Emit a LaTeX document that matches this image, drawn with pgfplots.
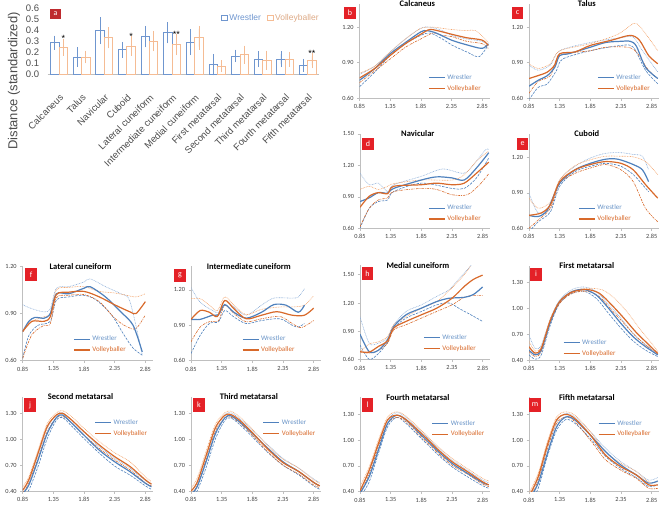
\documentclass[border=0pt]{standalone}
\usepackage{fontspec}
\setmainfont{Carlito}
\newfontfamily\arial{Liberation Sans}
\newfontfamily\calibri{Carlito}
\usepackage{pgfplots}
\usepackage{pgfplotstable}
\pgfplotsset{compat=1.18}

\definecolor{wblue}{HTML}{4F81BD}
\definecolor{wlight}{HTML}{8FB0DA}
\definecolor{vorange}{HTML}{D8692A}
\definecolor{vlight}{HTML}{F3A46C}
\definecolor{abar}{HTML}{6F96CF}
\definecolor{aorange}{HTML}{F5BC94}
\definecolor{badge}{HTML}{E42127}
\definecolor{badgea}{HTML}{BE2A2E}
\definecolor{axgray}{HTML}{BFBFBF}
\definecolor{ticktext}{HTML}{404040}

% panel a: mean distance and error
\pgfplotstableread{
x w we v ve
0 0.285 0.037 0.245 0.050
1 0.155 0.060 0.155 0.030
2 0.395 0.095 0.330 0.070
3 0.220 0.045 0.255 0.060
4 0.340 0.070 0.300 0.065
5 0.375 0.070 0.270 0.070
6 0.290 0.090 0.330 0.080
7 0.085 0.070 0.070 0.028
8 0.165 0.030 0.175 0.055
9 0.135 0.045 0.125 0.060
10 0.135 0.045 0.135 0.040
11 0.080 0.030 0.120 0.040
}\dataA

\pgfplotsset{
  lp/.style={scale only axis, width=130pt, height=94.5pt, anchor=south west,
    xmin=0.85, xmax=2.97, xtick={0.85,1.35,1.85,2.35,2.85},
    axis x line*=bottom, axis y line*=left,
    axis line style={axgray, line width=0.7pt},
    tick style={axgray, line width=0.6pt}, tick align=outside, major tick length=2.5pt,
    minor tick num=0,
    tick label style={font=\calibri\fontsize{6.3}{7}\selectfont, text=ticktext},
    /pgf/number format/assume math mode=true,
    /pgf/number format/fixed, /pgf/number format/fixed zerofill,
    /pgf/number format/precision=2,
    title style={at={(0.445,0.935)}, anchor=center, font=\calibri\bfseries\fontsize{8.5}{9}\selectfont},
    legend style={draw=none, fill=none, inner sep=0pt, row sep=0.5pt,
      font=\calibri\fontsize{7}{8}\selectfont, cells={anchor=west}},
    legend image code/.code={\draw[##1] (0pt,0pt) -- (16pt,0pt);},
  },
  wm/.style={wblue, line width=1.2pt, smooth},
  wl/.style={wblue, line width=0.6pt, dash pattern=on 2.5pt off 1.2pt, smooth, forget plot},
  wu/.style={wlight, line width=0.6pt, dash pattern=on 0.8pt off 0.8pt, smooth, forget plot},
  vm/.style={vorange, line width=1.2pt, smooth},
  vl/.style={vorange, line width=0.6pt, dash pattern=on 2.5pt off 1pt on 0.8pt off 1pt, smooth, forget plot},
  vu/.style={vlight, line width=0.6pt, dash pattern=on 0.8pt off 0.8pt, smooth, forget plot},
}
\newcommand{\legWV}{\addlegendentry{\textcolor{wblue!85}{Wrestler}}}
\newcommand{\legV}{\addlegendentry{\textcolor{vorange}{Volleyballer}}}

\begin{document}
\begin{tikzpicture}
\path[use as bounding box] (0pt,0pt) rectangle (662pt,-509pt);

% ---------- a ----------
\begin{axis}[at={(47.7pt,-74pt)}, anchor=south west, scale only axis,
  width=271.3pt, height=66pt, clip=false,
  ybar=0pt, bar width=8.4pt,
  xmin=-0.5, xmax=11.5, ymin=0, ymax=0.6,
  ytick={0,0.1,0.2,0.3,0.4,0.5,0.6},
  xtick={0,...,11},
  xticklabels={Calcaneus,Talus,Navicular,Cuboid,Lateral cuneiform,Intermediate cuneiform,Medial cuneiform,First metatarsal,Second metatarsal,Third metatarsal,Fourth metatarsal,Fifth metatarsal},
  axis x line*=bottom, axis y line*=left,
  x axis line style={axgray, line width=0.7pt}, y axis line style={draw=none},
  tick style={draw=none},
  tick label style={font=\arial\fontsize{9.5}{10}\selectfont, text=black!70},
  /pgf/number format/assume math mode=true,
  /pgf/number format/fixed, /pgf/number format/fixed zerofill,
  /pgf/number format/precision=1,
  yticklabel style={xshift=-5pt},
  xticklabel style={rotate=45, anchor=north east, inner sep=0pt, xshift=-10.6pt, yshift=-10.6pt},
  legend columns=2,
  legend style={at={(0.628,0.975)}, anchor=north west, draw=none, fill=none,
    font=\arial\fontsize{8.5}{9}\selectfont,
    /tikz/every even column/.append style={column sep=4pt}},
  legend image code/.code={\draw[#1, fill=white, line width=0.6pt] (0pt,-2.8pt) rectangle (5.6pt,2.8pt);},
]
\addplot[draw=abar, fill=white, line width=0.7pt,
  error bars/.cd, y dir=both, y explicit,
  error bar style={abar, line width=0.7pt},
  error mark options={abar, mark size=3pt, line width=0.7pt}]
  table[x=x, y=w, y error=we] {\dataA};
\addlegendentry{\textcolor{abar}{Wrestler}}
\addplot[draw=aorange, fill=white, line width=0.7pt,
  error bars/.cd, y dir=both, y explicit,
  error bar style={aorange, line width=0.7pt},
  error mark options={aorange, mark size=3pt, line width=0.7pt}]
  table[x=x, y=v, y error=ve] {\dataA};
\addlegendentry{\textcolor{aorange!90!black}{Volleyballer}}
\node[font=\arial\fontsize{9}{9}\selectfont, anchor=south, inner sep=0.5pt] at (axis cs:0.19,0.285) {*};
\node[font=\arial\fontsize{9}{9}\selectfont, anchor=south, inner sep=0.5pt] at (axis cs:3.19,0.305) {*};
\node[font=\arial\fontsize{9}{9}\selectfont, anchor=south, inner sep=0.5pt] at (axis cs:5.19,0.33) {**};
\node[font=\arial\fontsize{9}{9}\selectfont, anchor=south, inner sep=0.5pt] at (axis cs:11.19,0.15) {**};
\end{axis}
\node[rotate=90, font=\arial\fontsize{13}{14}\selectfont, text=black!70] at (14pt,-81pt) {Distance (standardized)};

% ---------- b Calcaneus ----------
\begin{axis}[lp, at={(359.5pt,-98pt)}, ymin=0.6, ymax=1.4, ytick={0.6,0.9,1.2},
  title={Calcaneus}, legend style={at={(0.527,0.27)}, anchor=north west}]
\addplot[wl] coordinates {(0.85,0.695)(1.1,0.82)(1.35,0.96)(1.6,1.06)(1.85,1.13)(2.0,1.15)(2.2,1.10)(2.35,1.05)(2.6,0.99)(2.8,0.95)(2.95,1.05)};
\addplot[wu] coordinates {(0.85,0.80)(1.1,0.87)(1.35,0.99)(1.6,1.10)(1.85,1.19)(2.0,1.20)(2.2,1.17)(2.35,1.13)(2.6,1.10)(2.85,1.08)(2.95,1.05)};
\addplot[vl] coordinates {(0.85,0.73)(1.1,0.83)(1.35,0.93)(1.6,1.03)(1.85,1.10)(2.05,1.15)(2.2,1.13)(2.35,1.12)(2.6,1.08)(2.85,1.06)(2.95,1.02)};
\addplot[vu] coordinates {(0.85,0.81)(1.1,0.87)(1.35,0.99)(1.6,1.10)(1.85,1.19)(2.05,1.20)(2.2,1.19)(2.35,1.18)(2.6,1.17)(2.75,1.17)(2.95,1.07)};
\addplot[wm] coordinates {(0.85,0.75)(1.1,0.85)(1.35,0.975)(1.6,1.07)(1.85,1.16)(1.95,1.17)(2.1,1.15)(2.35,1.09)(2.6,1.05)(2.85,1.02)(2.95,1.06)};
\legWV
\addplot[vm] coordinates {(0.85,0.77)(1.1,0.85)(1.35,0.96)(1.6,1.06)(1.85,1.14)(2.0,1.18)(2.2,1.16)(2.35,1.14)(2.6,1.11)(2.85,1.09)(2.95,1.045)};
\legV
\end{axis}

% ---------- c Talus ----------
\begin{axis}[lp, at={(529pt,-98pt)}, ymin=0.6, ymax=1.4, ytick={0.6,0.9,1.2},
  title={Talus}, legend style={at={(0.523,0.27)}, anchor=north west}]
\addplot[wl] coordinates {(0.85,0.585)(1.0,0.69)(1.15,0.72)(1.3,0.835)(1.4,0.93)(1.85,1.0)(2.35,1.045)(2.55,1.03)(2.75,0.835)(2.95,0.72)};
\addplot[wu] coordinates {(0.85,0.88)(1.0,0.835)(1.2,0.88)(1.35,1.0)(1.85,1.07)(2.35,1.11)(2.55,1.115)(2.7,1.0)(2.95,0.82)};
\addplot[vl] coordinates {(0.85,0.64)(1.0,0.74)(1.2,0.79)(1.35,0.96)(1.85,1.0)(2.1,1.03)(2.45,1.03)(2.6,0.99)(2.8,0.835)(2.95,0.765)};
\addplot[vu] coordinates {(0.85,0.89)(1.0,0.85)(1.2,0.89)(1.35,1.0)(1.85,1.06)(2.3,1.14)(2.55,1.23)(2.65,1.21)(2.8,1.11)(2.95,1.0)};
\addplot[wm] coordinates {(0.85,0.70)(1.0,0.75)(1.15,0.79)(1.27,0.86)(1.35,0.96)(1.5,0.975)(1.85,1.03)(2.1,1.07)(2.35,1.08)(2.5,1.08)(2.6,1.04)(2.75,0.86)(2.95,0.765)};
\legWV
\addplot[vm] coordinates {(0.85,0.765)(1.0,0.79)(1.15,0.82)(1.27,0.88)(1.35,0.975)(1.6,0.99)(1.85,1.045)(2.2,1.09)(2.5,1.13)(2.65,1.09)(2.8,0.96)(2.95,0.89)};
\legV
\end{axis}

% ---------- d Navicular ----------
\begin{axis}[lp, at={(360pt,-228.3pt)}, ymin=0.6, ymax=1.5, ytick={0.6,0.9,1.2,1.5},
  title={Navicular}, legend style={at={(0.523,0.27)}, anchor=north west}]
\addplot[wl] coordinates {(0.85,0.60)(1.0,0.79)(1.15,0.855)(1.3,0.87)(1.4,0.95)(1.85,1.03)(2.35,0.98)(2.55,0.98)(2.75,1.08)(2.95,1.27)};
\addplot[wu] coordinates {(0.85,1.125)(1.0,1.015)(1.15,1.03)(1.3,0.95)(1.4,1.015)(1.85,1.095)(2.2,1.165)(2.55,1.125)(2.75,1.24)(2.9,1.35)(2.95,1.35)};
\addplot[vl] coordinates {(0.85,0.615)(1.0,0.79)(1.15,0.87)(1.3,0.89)(1.4,0.95)(1.85,0.98)(2.1,0.97)(2.35,0.92)(2.6,0.92)(2.8,1.015)(2.95,1.12)};
\addplot[vu] coordinates {(0.85,0.97)(1.0,1.0)(1.15,0.97)(1.3,1.0)(1.4,1.025)(1.85,1.06)(2.35,1.06)(2.55,1.11)(2.75,1.24)(2.95,1.335)};
\addplot[wm] coordinates {(0.85,0.855)(1.0,0.89)(1.15,0.94)(1.3,0.935)(1.4,0.98)(1.85,1.06)(2.1,1.09)(2.35,1.08)(2.55,1.06)(2.75,1.175)(2.95,1.32)};
\legWV
\addplot[vm] coordinates {(0.85,0.80)(1.0,0.905)(1.15,0.94)(1.3,0.93)(1.4,1.0)(1.85,1.015)(2.1,1.03)(2.35,1.015)(2.55,1.03)(2.75,1.125)(2.95,1.23)};
\legV
\end{axis}

% ---------- e Cuboid ----------
\begin{axis}[lp, at={(529pt,-228.3pt)}, ymin=0.6, ymax=1.4, ytick={0.6,0.9,1.2},
  title={Cuboid}, legend style={at={(0.377,0.27)}, anchor=north west}]
\addplot[wl] coordinates {(0.85,0.57)(1.0,0.655)(1.2,0.74)(1.35,0.955)(1.6,1.08)(1.85,1.125)(2.1,1.15)(2.35,1.125)(2.55,1.055)(2.7,0.97)(2.8,0.91)};
\addplot[wu] coordinates {(0.85,0.90)(1.0,0.73)(1.2,0.77)(1.35,1.01)(1.6,1.125)(1.85,1.195)(2.1,1.235)(2.35,1.24)(2.55,1.225)(2.7,1.21)(2.8,1.095)};
\addplot[vl] coordinates {(0.85,0.60)(1.0,0.67)(1.2,0.77)(1.35,0.98)(1.6,1.065)(1.85,1.11)(2.1,1.14)(2.35,1.095)(2.55,0.995)(2.75,0.77)(2.95,0.655)};
\addplot[vu] coordinates {(0.85,0.855)(1.0,0.77)(1.2,0.825)(1.35,1.01)(1.6,1.13)(1.85,1.18)(2.1,1.21)(2.35,1.21)(2.55,1.205)(2.75,1.165)(2.95,1.055)};
\addplot[wm] coordinates {(0.85,0.71)(1.0,0.70)(1.15,0.755)(1.35,0.98)(1.6,1.095)(1.85,1.15)(2.1,1.185)(2.3,1.185)(2.55,1.14)(2.7,1.095)(2.8,0.995)};
\legWV
\addplot[vm] coordinates {(0.85,0.71)(1.05,0.73)(1.2,0.80)(1.35,0.995)(1.6,1.095)(1.85,1.14)(2.1,1.165)(2.35,1.15)(2.55,1.095)(2.75,0.97)(2.95,0.855)};
\legV
\end{axis}

% ---------- f Lateral cuneiform ----------
\begin{axis}[lp, at={(22.7pt,-360.7pt)}, ymin=0.6, ymax=1.2, ytick={0.6,0.9,1.2},
  title={Lateral cuneiform}, legend style={at={(0.387,0.285)}, anchor=north west}]
\addplot[wl] coordinates {(0.85,0.615)(0.95,0.76)(1.1,0.825)(1.3,0.85)(1.4,0.985)(1.6,1.005)(1.85,1.015)(2.05,0.985)(2.3,0.89)(2.5,0.765)(2.65,0.68)(2.8,0.635)};
\addplot[wu] coordinates {(0.85,0.955)(1.0,0.93)(1.2,0.91)(1.3,0.93)(1.4,1.06)(1.6,1.07)(1.85,1.10)(1.95,1.12)(2.2,1.07)(2.45,1.025)(2.6,0.975)(2.8,0.635)};
\addplot[vl] coordinates {(0.85,0.615)(1.0,0.765)(1.2,0.825)(1.3,0.835)(1.4,1.0)(1.6,1.015)(1.85,1.02)(2.1,0.975)(2.35,0.87)(2.55,0.815)(2.7,0.805)(2.85,0.89)};
\addplot[vu] coordinates {(0.85,0.785)(1.0,0.85)(1.2,0.88)(1.3,0.90)(1.4,1.05)(1.6,1.065)(1.85,1.07)(2.1,1.04)(2.35,1.03)(2.55,1.015)(2.7,1.005)(2.85,1.025)};
\addplot[wm] coordinates {(0.85,0.785)(0.95,0.85)(1.05,0.875)(1.2,0.87)(1.3,0.90)(1.4,1.025)(1.6,1.025)(1.85,1.06)(1.95,1.07)(2.2,1.005)(2.45,0.91)(2.65,0.825)(2.8,0.655)};
\legWV
\addplot[vm] coordinates {(0.85,0.785)(1.0,0.85)(1.2,0.85)(1.3,0.88)(1.4,1.02)(1.6,1.035)(1.85,1.04)(2.1,1.005)(2.35,0.955)(2.6,0.91)(2.7,0.90)(2.85,0.975)};
\legV
\end{axis}

% ---------- g Intermediate cuneiform ----------
\begin{axis}[lp, at={(191pt,-360.7pt)}, ymin=0.6, ymax=1.4, ytick={0.6,0.9,1.2},
  title={Intermediate cuneiform}, legend style={at={(0.39,0.285)}, anchor=north west}]
\addplot[wl] coordinates {(0.85,0.66)(1.0,0.815)(1.15,0.915)(1.3,0.93)(1.4,1.025)(1.55,0.97)(1.75,0.915)(2.0,0.94)(2.3,0.955)(2.5,0.90)(2.6,0.885)(2.7,0.915)};
\addplot[wu] coordinates {(0.85,1.22)(1.0,1.095)(1.2,1.025)(1.3,1.01)(1.4,1.11)(1.55,1.055)(1.75,0.985)(2.0,1.07)(2.2,1.13)(2.5,1.13)(2.6,1.14)(2.7,1.21)};
\addplot[vl] coordinates {(0.85,0.76)(1.0,0.885)(1.15,0.93)(1.3,0.94)(1.4,1.07)(1.55,1.0)(1.75,0.93)(2.0,0.955)(2.3,0.975)(2.5,0.915)(2.65,0.88)(2.85,0.94)};
\addplot[vu] coordinates {(0.85,1.125)(1.0,1.125)(1.15,1.07)(1.28,1.025)(1.4,1.14)(1.55,1.07)(1.75,0.99)(2.0,1.035)(2.3,1.055)(2.5,1.055)(2.7,1.07)(2.85,1.15)};
\addplot[wm] coordinates {(0.85,0.95)(1.0,0.95)(1.2,0.985)(1.3,0.99)(1.4,1.075)(1.55,1.01)(1.75,0.96)(2.0,1.01)(2.2,1.075)(2.4,1.07)(2.6,1.01)(2.7,1.07)};
\legWV
\addplot[vm] coordinates {(0.85,0.95)(1.0,1.025)(1.15,1.01)(1.28,0.975)(1.4,1.11)(1.55,1.04)(1.75,0.955)(2.0,0.985)(2.25,1.015)(2.5,0.985)(2.7,0.985)(2.85,1.045)};
\legV
\end{axis}

% ---------- h Medial cuneiform ----------
\begin{axis}[lp, at={(360pt,-359.7pt)}, ymin=0.6, ymax=1.6, ytick={0.6,0.9,1.2,1.5},
  title={Medial cuneiform}, legend style={at={(0.485,0.29)}, anchor=north west}]
\addplot[wl] coordinates {(0.85,0.755)(1.0,0.605)(1.15,0.665)(1.3,0.785)(1.4,0.935)(1.6,1.04)(1.85,1.11)(2.1,1.18)(2.3,1.20)(2.5,1.13)(2.7,1.06)(2.85,1.005)};
\addplot[wu] coordinates {(0.85,1.055)(1.0,0.775)(1.15,0.775)(1.3,0.83)(1.4,0.97)(1.6,1.11)(1.85,1.18)(2.1,1.27)(2.3,1.34)(2.5,1.48)(2.7,1.625)};
\addplot[vl] coordinates {(0.85,0.685)(1.0,0.67)(1.15,0.70)(1.3,0.775)(1.4,0.915)(1.6,0.97)(1.85,1.04)(2.1,1.11)(2.35,1.18)(2.55,1.26)(2.7,1.28)(2.85,1.28)};
\addplot[vu] coordinates {(0.85,0.685)(1.0,0.765)(1.15,0.79)(1.3,0.845)(1.4,0.97)(1.6,1.055)(1.85,1.145)(2.1,1.215)(2.35,1.36)(2.55,1.50)(2.65,1.59)};
\addplot[wm] coordinates {(0.85,0.87)(1.0,0.685)(1.15,0.70)(1.3,0.81)(1.4,0.95)(1.6,1.075)(1.85,1.145)(2.1,1.215)(2.3,1.25)(2.55,1.26)(2.7,1.29)(2.85,1.37)};
\legWV
\addplot[vm] coordinates {(0.85,0.685)(1.0,0.68)(1.15,0.74)(1.3,0.80)(1.4,0.935)(1.6,1.005)(1.85,1.075)(2.1,1.145)(2.35,1.25)(2.55,1.375)(2.7,1.45)(2.85,1.495)};
\legV
\end{axis}

% ---------- i First metatarsal ----------
\begin{axis}[lp, at={(529pt,-360pt)}, ymin=0.4, ymax=1.5, ytick={0.4,0.7,1.0,1.3},
  title={First metatarsal}, legend style={at={(0.26,0.24)}, anchor=north west}]
\addplot[wl] coordinates {(0.85,0.46)(0.95,0.41)(1.05,0.46)(1.2,0.81)(1.35,1.06)(1.55,1.175)(1.75,1.20)(1.95,1.115)(2.15,0.94)(2.35,0.77)(2.55,0.62)(2.75,0.515)(2.95,0.44)};
\addplot[wu] coordinates {(0.85,0.69)(0.95,0.535)(1.05,0.575)(1.2,0.885)(1.35,1.10)(1.55,1.22)(1.75,1.25)(1.95,1.195)(2.15,1.045)(2.35,0.885)(2.55,0.71)(2.75,0.58)(2.95,0.475)};
\addplot[vl] coordinates {(0.85,0.50)(0.95,0.44)(1.05,0.50)(1.2,0.845)(1.35,1.06)(1.55,1.175)(1.8,1.20)(2.0,1.135)(2.2,0.98)(2.4,0.825)(2.6,0.67)(2.8,0.545)(2.95,0.46)};
\addplot[vu] coordinates {(0.85,0.615)(0.95,0.505)(1.05,0.555)(1.2,0.885)(1.35,1.085)(1.55,1.20)(1.8,1.235)(2.05,1.215)(2.25,1.115)(2.45,0.96)(2.65,0.77)(2.85,0.595)(2.95,0.50)};
\addplot[wm] coordinates {(0.85,0.515)(0.95,0.46)(1.05,0.515)(1.2,0.845)(1.35,1.08)(1.55,1.195)(1.75,1.22)(1.95,1.155)(2.15,1.0)(2.35,0.825)(2.55,0.67)(2.75,0.555)(2.95,0.46)};
\legWV
\addplot[vm] coordinates {(0.85,0.555)(0.95,0.48)(1.05,0.535)(1.2,0.865)(1.35,1.08)(1.55,1.19)(1.8,1.22)(2.0,1.175)(2.2,1.04)(2.4,0.885)(2.6,0.72)(2.8,0.58)(2.95,0.475)};
\legV
\end{axis}

% ---------- j Second metatarsal ----------
\begin{axis}[lp, at={(22.7pt,-491pt)}, ymin=0.4, ymax=1.5, ytick={0.4,0.7,1.0,1.3},
  title={Second metatarsal}, legend style={at={(0.55,0.78)}, anchor=north west}]
\addplot[wl] coordinates {(0.85,0.335)(0.95,0.41)(1.1,0.685)(1.25,1.01)(1.4,1.225)(1.5,1.255)(1.65,1.155)(1.85,1.01)(2.1,0.84)(2.35,0.69)(2.6,0.585)(2.85,0.46)(2.95,0.42)};
\addplot[wu] coordinates {(0.85,0.41)(0.95,0.53)(1.1,0.82)(1.25,1.13)(1.4,1.285)(1.5,1.31)(1.65,1.225)(1.85,1.09)(2.1,0.915)(2.35,0.78)(2.6,0.665)(2.85,0.52)(2.95,0.48)};
\addplot[vl] coordinates {(0.85,0.38)(0.95,0.49)(1.1,0.78)(1.25,1.09)(1.4,1.255)(1.5,1.27)(1.65,1.195)(1.85,1.05)(2.1,0.895)(2.35,0.76)(2.6,0.645)(2.85,0.495)(2.95,0.46)};
\addplot[vu] coordinates {(0.85,0.45)(0.95,0.565)(1.1,0.875)(1.25,1.185)(1.4,1.31)(1.5,1.335)(1.65,1.265)(1.85,1.13)(2.1,0.975)(2.35,0.845)(2.6,0.74)(2.85,0.565)(2.95,0.51)};
\addplot[wm] coordinates {(0.85,0.37)(0.95,0.47)(1.1,0.76)(1.25,1.07)(1.4,1.255)(1.5,1.285)(1.65,1.19)(1.85,1.05)(2.1,0.875)(2.35,0.74)(2.6,0.625)(2.85,0.49)(2.95,0.45)};
\legWV
\addplot[vm] coordinates {(0.85,0.41)(0.95,0.53)(1.1,0.84)(1.25,1.15)(1.4,1.285)(1.5,1.305)(1.65,1.225)(1.85,1.09)(2.1,0.935)(2.35,0.80)(2.6,0.685)(2.85,0.53)(2.95,0.48)};
\legV
\end{axis}

% ---------- k Third metatarsal ----------
\begin{axis}[lp, at={(191pt,-491pt)}, ymin=0.4, ymax=1.5, ytick={0.4,0.7,1.0,1.3},
  title={Third metatarsal}, legend style={at={(0.55,0.78)}, anchor=north west}]
\addplot[wl] coordinates {(0.85,0.33)(0.95,0.40)(1.1,0.68)(1.25,1.01)(1.4,1.22)(1.5,1.25)(1.65,1.17)(1.85,1.03)(2.1,0.85)(2.35,0.70)(2.6,0.59)(2.85,0.46)(2.95,0.42)};
\addplot[wu] coordinates {(0.85,0.40)(0.95,0.50)(1.1,0.82)(1.25,1.13)(1.4,1.29)(1.5,1.31)(1.65,1.24)(1.85,1.11)(2.1,0.94)(2.35,0.78)(2.6,0.67)(2.85,0.54)(2.95,0.50)};
\addplot[vl] coordinates {(0.85,0.37)(0.95,0.46)(1.1,0.77)(1.25,1.10)(1.4,1.25)(1.5,1.26)(1.65,1.19)(1.85,1.05)(2.1,0.86)(2.35,0.70)(2.6,0.60)(2.85,0.47)(2.95,0.44)};
\addplot[vu] coordinates {(0.85,0.43)(0.95,0.55)(1.1,0.87)(1.25,1.18)(1.4,1.31)(1.5,1.33)(1.65,1.26)(1.85,1.12)(2.1,0.93)(2.35,0.77)(2.6,0.67)(2.85,0.53)(2.95,0.49)};
\addplot[wm] coordinates {(0.85,0.36)(0.95,0.45)(1.1,0.75)(1.25,1.07)(1.4,1.25)(1.5,1.275)(1.65,1.20)(1.85,1.07)(2.1,0.90)(2.35,0.74)(2.6,0.63)(2.85,0.50)(2.95,0.46)};
\legWV
\addplot[vm] coordinates {(0.85,0.40)(0.95,0.50)(1.1,0.82)(1.25,1.14)(1.4,1.28)(1.5,1.29)(1.65,1.22)(1.85,1.08)(2.1,0.89)(2.35,0.73)(2.6,0.63)(2.85,0.50)(2.95,0.46)};
\legV
\end{axis}

% ---------- l Fourth metatarsal ----------
\begin{axis}[lp, at={(360pt,-491.7pt)}, ymin=0.4, ymax=1.5, ytick={0.4,0.7,1.0,1.3},
  title={Fourth metatarsal}, legend style={at={(0.55,0.78)}, anchor=north west}]
\addplot[wl] coordinates {(0.85,0.34)(1.0,0.515)(1.15,0.845)(1.3,1.155)(1.45,1.265)(1.6,1.195)(1.85,1.02)(2.1,0.845)(2.35,0.69)(2.6,0.575)(2.85,0.47)(2.95,0.44)};
\addplot[wu] coordinates {(0.85,0.41)(1.0,0.635)(1.15,0.945)(1.3,1.235)(1.45,1.32)(1.6,1.265)(1.85,1.10)(2.1,0.925)(2.35,0.77)(2.6,0.65)(2.85,0.535)(2.95,0.505)};
\addplot[vl] coordinates {(0.85,0.38)(1.0,0.605)(1.15,0.925)(1.3,1.195)(1.45,1.265)(1.6,1.215)(1.85,1.04)(2.1,0.865)(2.35,0.71)(2.6,0.605)(2.85,0.49)(2.95,0.46)};
\addplot[vu] coordinates {(0.85,0.46)(1.0,0.69)(1.15,1.0)(1.3,1.27)(1.45,1.33)(1.6,1.28)(1.85,1.115)(2.1,0.94)(2.35,0.79)(2.6,0.67)(2.85,0.555)(2.95,0.525)};
\addplot[wm] coordinates {(0.85,0.38)(1.0,0.575)(1.15,0.885)(1.3,1.195)(1.45,1.29)(1.6,1.235)(1.85,1.06)(2.1,0.885)(2.35,0.73)(2.6,0.615)(2.85,0.505)(2.95,0.48)};
\legWV
\addplot[vm] coordinates {(0.85,0.41)(1.0,0.65)(1.15,0.96)(1.3,1.235)(1.45,1.29)(1.6,1.24)(1.85,1.08)(2.1,0.905)(2.35,0.75)(2.6,0.635)(2.85,0.515)(2.95,0.48)};
\legV
\end{axis}

% ---------- m Fifth metatarsal ----------
\begin{axis}[lp, at={(529pt,-491.7pt)}, ymin=0.4, ymax=1.5, ytick={0.4,0.7,1.0,1.3},
  title={Fifth metatarsal}, legend style={at={(0.53,0.78)}, anchor=north west}]
\addplot[wl] coordinates {(0.85,0.245)(1.0,0.44)(1.15,0.81)(1.3,1.115)(1.45,1.24)(1.6,1.195)(1.85,1.02)(2.1,0.81)(2.35,0.67)(2.6,0.565)(2.8,0.46)(2.95,0.48)};
\addplot[wu] coordinates {(0.85,0.34)(1.0,0.555)(1.15,0.905)(1.3,1.215)(1.45,1.31)(1.6,1.27)(1.85,1.10)(2.1,0.905)(2.35,0.75)(2.6,0.635)(2.8,0.535)(2.95,0.565)};
\addplot[vl] coordinates {(0.85,0.30)(1.0,0.535)(1.15,0.905)(1.3,1.195)(1.45,1.27)(1.6,1.215)(1.85,1.0)(2.1,0.77)(2.35,0.65)(2.6,0.555)(2.8,0.44)(2.95,0.44)};
\addplot[vu] coordinates {(0.85,0.38)(1.0,0.615)(1.15,0.98)(1.3,1.27)(1.45,1.33)(1.6,1.29)(1.85,1.10)(2.1,0.865)(2.35,0.73)(2.6,0.635)(2.8,0.515)(2.95,0.515)};
\addplot[wm] coordinates {(0.85,0.30)(1.0,0.50)(1.15,0.845)(1.3,1.155)(1.45,1.27)(1.6,1.235)(1.85,1.06)(2.1,0.865)(2.35,0.71)(2.6,0.595)(2.8,0.50)(2.95,0.525)};
\legWV
\addplot[vm] coordinates {(0.85,0.34)(1.0,0.575)(1.15,0.945)(1.3,1.235)(1.45,1.30)(1.6,1.25)(1.85,1.06)(2.1,0.825)(2.35,0.69)(2.6,0.595)(2.8,0.48)(2.95,0.48)};
\legV
\end{axis}

% ---------- panel letters ----------
\tikzset{bdg/.style={fill=badge, text=white, minimum width=11.5pt, minimum height=12pt, inner sep=0pt, font=\calibri\fontsize{8}{8}\selectfont}}
\node[bdg, fill=badgea, minimum width=10.5pt, minimum height=9.5pt] at (55.5pt,-14pt) {a};
\node[bdg] at (350pt,-12.5pt) {b};
\node[bdg] at (517.5pt,-12.5pt) {c};
\node[bdg] at (368pt,-144pt) {d};
\node[bdg] at (522.5pt,-144pt) {e};
\node[bdg, minimum height=13pt] at (31pt,-274.5pt) {f};
\node[bdg, minimum height=13pt] at (180pt,-275pt) {g};
\node[bdg, minimum height=13pt] at (367.5pt,-273.5pt) {h};
\node[bdg, minimum height=13pt] at (536pt,-274pt) {i};
\node[bdg, minimum height=13.5pt] at (30pt,-405pt) {j};
\node[bdg, minimum height=13.5pt] at (199pt,-405pt) {k};
\node[bdg, minimum height=13.5pt] at (367.5pt,-405pt) {l};
\node[bdg, minimum height=13.5pt] at (535pt,-405pt) {m};
\end{tikzpicture}
\end{document}
